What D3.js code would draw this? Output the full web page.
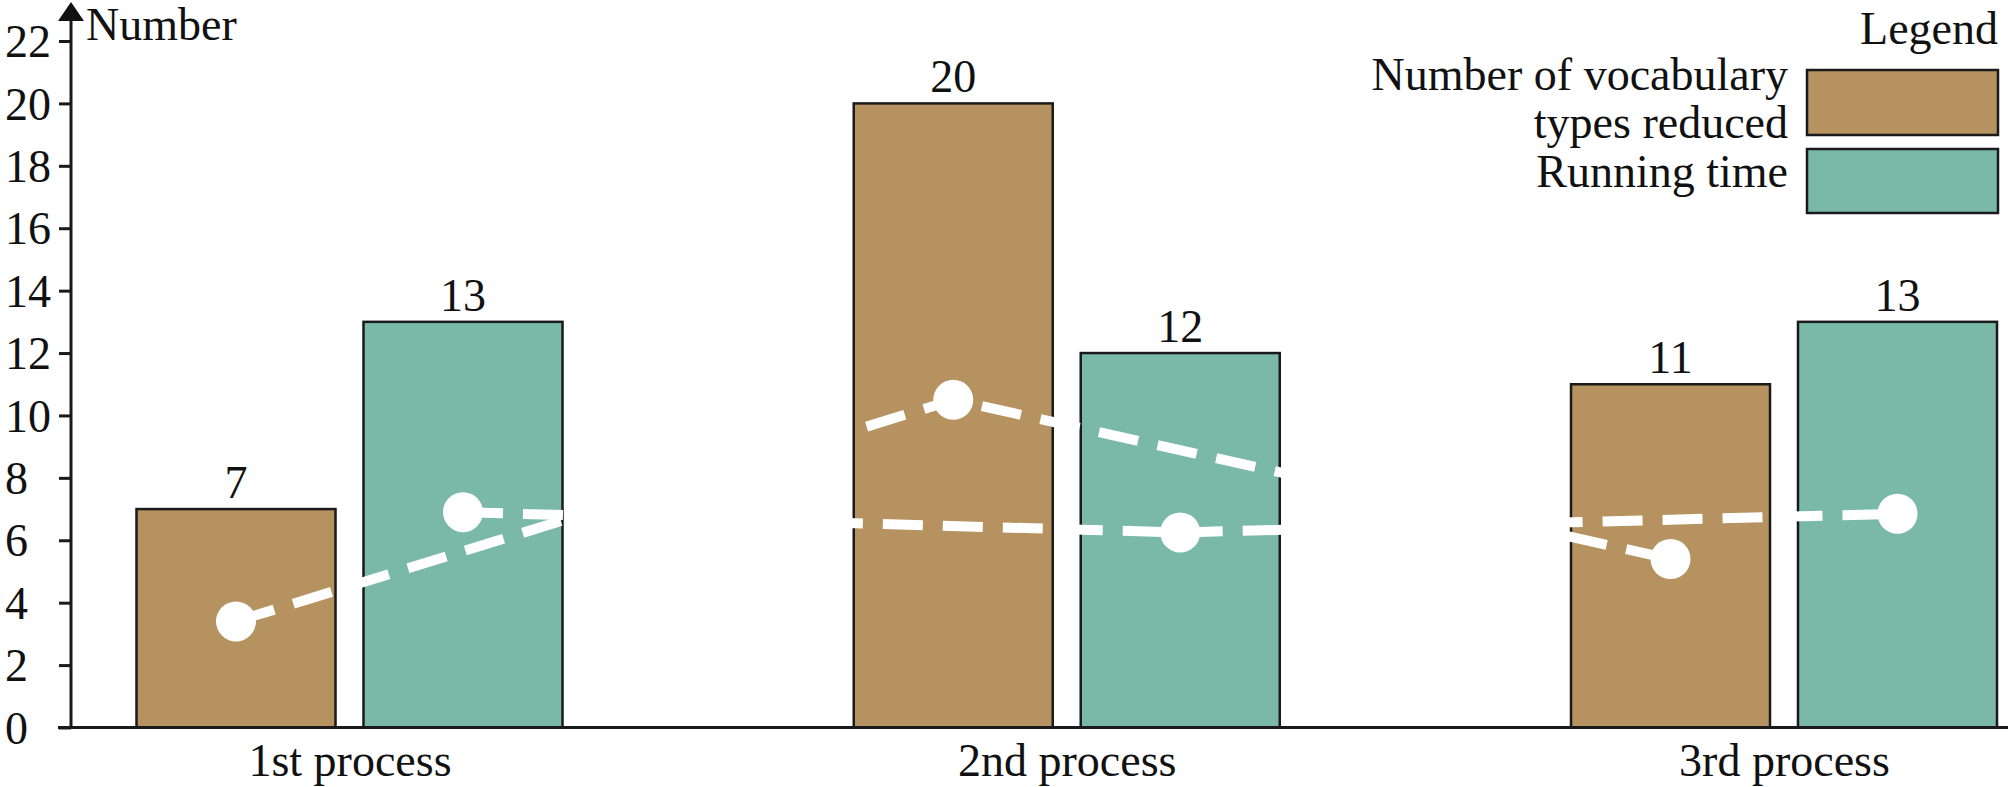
<!DOCTYPE html>
<html>
<head>
<meta charset="utf-8">
<script src="https://cdn.jsdelivr.net/npm/d3@7/dist/d3.min.js"></script>
<style>
  html, body { margin: 0; padding: 0; background: #fff; }
  svg { display: block; }
  text { font-family: "Liberation Serif", "Times New Roman", serif; fill: #111; }
</style>
</head>
<body>
<svg id="chart" width="2008" height="787"></svg>
<script>
// ---- data ----
const categories = ["1st process", "2nd process", "3rd process"];
const seriesNames = ["Number of vocabulary types reduced", "Running time"];
const vocabReduced = [7, 20, 11];
const runningTime = [13, 12, 13];
// white dashed overlay lines
const vocabLine = [3.4, 10.5, 5.4];
const runningLine = [6.9, 6.25, 6.85];
const yTicks = [0, 2, 4, 6, 8, 10, 12, 14, 16, 18, 20, 22];
const legendTitle = "Legend";
const legendLabels = [["Number of vocabulary", "types reduced"], ["Running time"]];
const yTitle = "Number";

// ---- style ----
const colors = ["#B5925F", "#7AB9A8"];
const fontSize = 46;

const svg = d3.select("#chart");
const W = 2008, H = 787;
const axisX = 71, zeroY = 727.5;

const y = d3.scaleLinear().domain([0, 22]).range([zeroY, 41]);
const x = d3.scalePoint().domain(categories).range([349.5, 1784]);
const xi = d3.scaleBand().domain(seriesNames).range([-213, 213]).paddingInner(0.1233).paddingOuter(0);

const seriesValues = [vocabReduced, runningTime];
const lineValues = [vocabLine, runningLine];

// ---- bars ----
const barG = svg.append("g");
seriesNames.forEach((s, si) => {
  barG.selectAll(null)
    .data(categories.map((c, i) => ({ c, v: seriesValues[si][i] })))
    .join("rect")
    .attr("x", d => x(d.c) + xi(s))
    .attr("y", d => y(d.v))
    .attr("width", xi.bandwidth())
    .attr("height", d => zeroY - y(d.v))
    .attr("fill", colors[si])
    .attr("stroke", "#1a1a1a")
    .attr("stroke-width", 2.5);
  barG.selectAll(null)
    .data(categories.map((c, i) => ({ c, v: seriesValues[si][i] })))
    .join("text")
    .attr("x", d => x(d.c) + xi(s) + xi.bandwidth() / 2)
    .attr("y", d => y(d.v) - 11)
    .attr("text-anchor", "middle")
    .attr("font-size", fontSize)
    .text(d => d.v);
});

// ---- white dashed overlay lines ----
const lineG = svg.append("g");
seriesNames.forEach((s, si) => {
  const pts = categories.map((c, i) => [x(c) + xi(s) + xi.bandwidth() / 2, y(lineValues[si][i])]);
  lineG.append("path")
    .attr("d", d3.line()(pts))
    .attr("fill", "none")
    .attr("stroke", "#fff")
    .attr("stroke-width", 10)
    .attr("stroke-dasharray", "40,20");
  lineG.selectAll(null)
    .data(pts)
    .join("circle")
    .attr("cx", d => d[0])
    .attr("cy", d => d[1])
    .attr("r", 20)
    .attr("fill", "#fff");
});

// ---- y axis ----
const yAxis = d3.axisLeft(y).tickValues(yTicks).tickSize(12).tickSizeOuter(0);
const yg = svg.append("g").attr("transform", `translate(${axisX},0)`).call(yAxis);
yg.select(".domain").remove();
yg.selectAll(".tick line").attr("stroke", "#1a1a1a").attr("stroke-width", 3);
yg.selectAll(".tick text")
  .attr("x", 5 - axisX)
  .attr("dy", "0.34em")
  .attr("text-anchor", "start")
  .attr("font-size", fontSize)
  .attr("font-family", "Liberation Serif, Times New Roman, serif")
  .attr("fill", "#111");
svg.append("line")
  .attr("x1", axisX).attr("x2", axisX)
  .attr("y1", zeroY).attr("y2", 16)
  .attr("stroke", "#1a1a1a").attr("stroke-width", 3);
svg.append("path")
  .attr("d", `M${axisX},2 L${axisX - 13},21 L${axisX + 13},21 Z`)
  .attr("fill", "#111");
svg.append("text")
  .attr("x", 86).attr("y", 40)
  .attr("font-size", fontSize)
  .text(yTitle);

// ---- x axis ----
const xAxis = d3.axisBottom(x).tickSize(0).tickSizeOuter(0);
const xg = svg.append("g").attr("transform", `translate(0,${zeroY})`).call(xAxis);
xg.select(".domain").remove();
xg.selectAll(".tick text")
  .attr("y", 48)
  .attr("dy", 0)
  .attr("font-size", fontSize)
  .attr("font-family", "Liberation Serif, Times New Roman, serif")
  .attr("fill", "#111");
svg.append("line")
  .attr("x1", 58).attr("x2", W)
  .attr("y1", zeroY).attr("y2", zeroY)
  .attr("stroke", "#1a1a1a").attr("stroke-width", 3);

// ---- legend ----
const lg = svg.append("g");
lg.append("text")
  .attr("x", 1998).attr("y", 44)
  .attr("text-anchor", "end")
  .attr("font-size", fontSize)
  .text(legendTitle);
const legRects = [[70, 65], [149, 64]];
seriesNames.forEach((s, si) => {
  lg.append("rect")
    .attr("x", 1807).attr("y", legRects[si][0])
    .attr("width", 191).attr("height", legRects[si][1])
    .attr("fill", colors[si])
    .attr("stroke", "#1a1a1a").attr("stroke-width", 2.5);
});
const legBaselines = [[90, 138], [187]];
legendLabels.forEach((lines, si) => {
  lines.forEach((t, li) => {
    lg.append("text")
      .attr("x", 1788).attr("y", legBaselines[si][li])
      .attr("text-anchor", "end")
      .attr("font-size", fontSize)
      .text(t);
  });
});
</script>
</body>
</html>
